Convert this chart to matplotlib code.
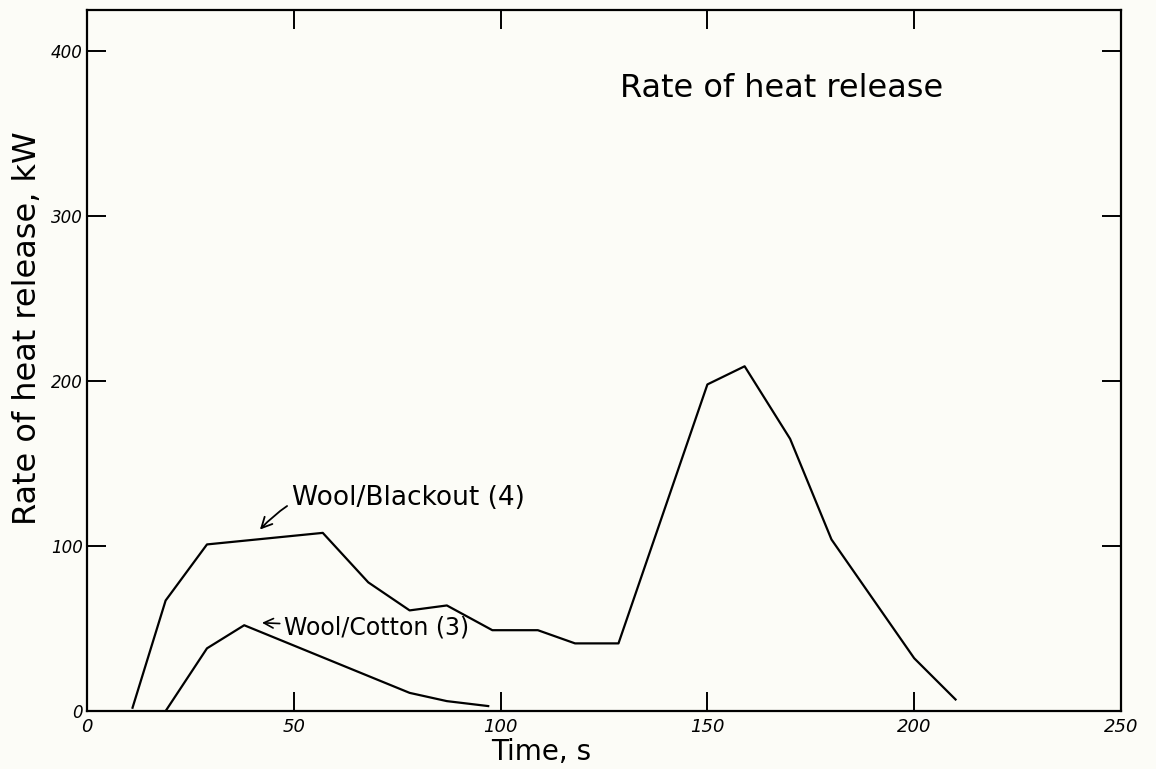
import matplotlib.pyplot as plt

# ----- data -----
blackout_t = [11, 19, 29, 57, 68, 78, 87, 98, 109, 118, 128.5, 150, 159, 170, 180, 200, 210]
blackout_q = [2, 67, 101, 108, 78, 61, 64, 49, 49, 41, 41, 198, 209, 165, 104, 32, 7]

cotton_t = [19, 29, 38, 78, 87, 97]
cotton_q = [0, 38, 52, 11, 6, 3]

x_ticks = [0, 50, 100, 150, 200, 250]
y_ticks = [0, 100, 200, 300, 400]

BG = "#fcfcf7"

fig = plt.figure(figsize=(11.56, 7.69), dpi=100, facecolor=BG)
ax = fig.add_axes([0.0753, 0.0754, 0.8944, 0.9116], facecolor=BG)

ax.plot(blackout_t, blackout_q, color="black", lw=1.6)
ax.plot(cotton_t, cotton_q, color="black", lw=1.6)

ax.set_xlim(0, 250)
ax.set_ylim(0, 425)
ax.set_xticks(x_ticks)
ax.set_yticks(y_ticks)
ax.tick_params(direction="in", length=14, width=1.4, top=True, right=True,
               labelsize=13, pad=5)
ax.tick_params(axis="y", labelsize=12, pad=3)
for lab in ax.get_xticklabels() + ax.get_yticklabels():
    lab.set_fontstyle("italic")
for s in ax.spines.values():
    s.set_linewidth(1.6)

xl = ax.set_xlabel("Time, s", fontsize=20)
xl.set_va("center")
ax.xaxis.set_label_coords(0.439, -0.058)
ax.set_ylabel("Rate of heat release, kW", fontsize=23)
ax.yaxis.set_label_coords(-0.043, 0.546)

ax.text(0.515, 0.888, "Rate of heat release", transform=ax.transAxes,
        fontsize=23, ha="left", va="center")

# (hand-written annotations)
ax.annotate("Wool/Blackout (4)", xy=(41.8, 110), xytext=(49.6, 129),
            fontsize=19, ha="left", va="center",
            arrowprops=dict(arrowstyle="->", color="black", lw=1.3,
                            connectionstyle="arc3,rad=0.35", shrinkA=2, shrinkB=0))
ax.annotate("Wool/Cotton (3)", xy=(42.3, 53.5), xytext=(47.6, 50.5),
            fontsize=17, ha="left", va="center",
            arrowprops=dict(arrowstyle="->", color="black", lw=1.2,
                            shrinkA=1, shrinkB=0))

fig.savefig("out.png", dpi=100, facecolor=BG)
